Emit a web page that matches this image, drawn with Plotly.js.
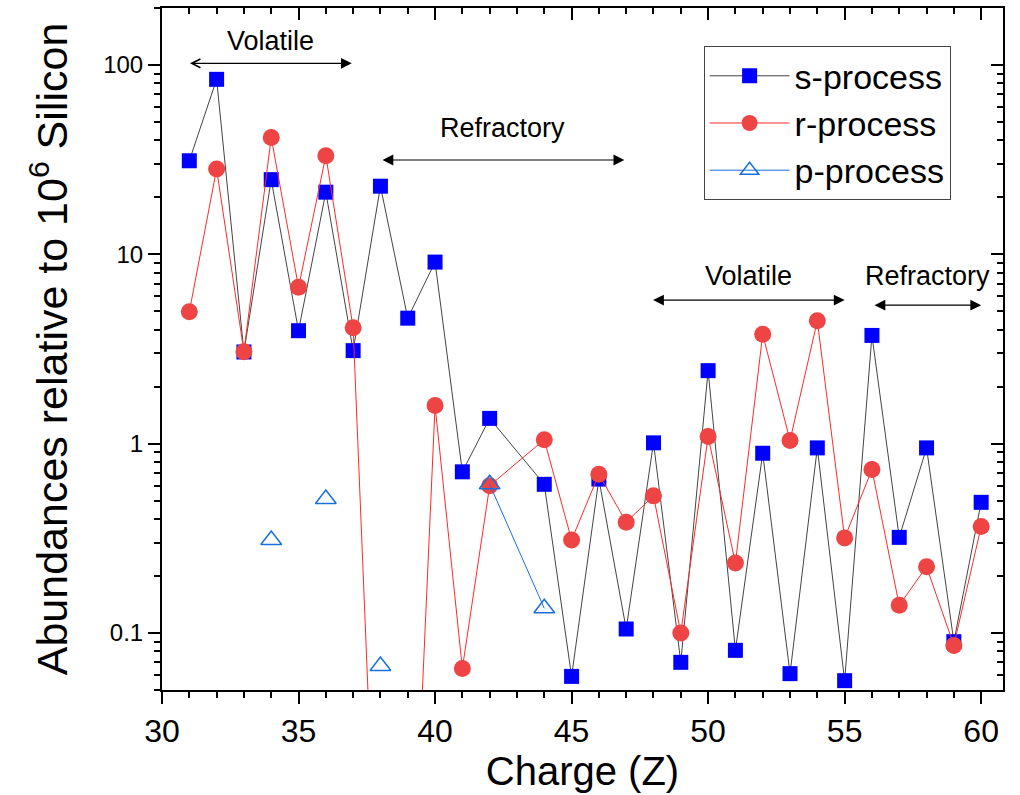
<!DOCTYPE html>
<html>
<head>
<meta charset="utf-8">
<script src="https://cdn.plot.ly/plotly-3.0.1.min.js"></script>
<style>html,body{margin:0;padding:0;background:#fff;}#chart{width:1020px;height:795px;}</style>
</head>
<body>
<div id="chart"></div>
<script>
// Atomic number (Z); Z = 43 has no entry
var charge = [31,32,33,34,35,36,37,38,39,40,41,42,44,45,46,47,48,49,50,51,52,53,54,55,56,57,58,59,60];
var sProcess = [31.2,84,3.05,24.8,3.95,21.3,3.1,22.9,4.6,9.1,0.71,1.36,0.61,0.059,0.65,0.105,1.01,0.070,2.43,0.081,0.89,0.061,0.95,0.056,3.73,0.32,0.95,0.090,0.49];
var rProcess = [4.97,28.2,3.06,41.4,6.7,33.2,4.1,0.0012,0.0009,1.59,0.065,0.60,1.05,0.31,0.69,0.385,0.53,0.10,1.09,0.234,3.78,1.04,4.46,0.318,0.73,0.14,0.224,0.086,0.365];
var pProcess = [null,null,null,0.31,null,0.51,null,0.067,null,null,null,0.61,0.135,null,null,null,null,null,null,null,null,null,null,null,null,null,null,null,null];

// Region labels (Z span, label height)
var regionLabels = ['Volatile','Refractory','Volatile','Refractory'];
var regionFrom = [30.97, 38.02, 47.93, 56.04];
var regionTo = [36.95, 46.93, 55.0, 60.0];
var regionArrowY = [102, 31.5, 5.73, 5.39];
var regionTextY = [134, 46.4, 7.67, 7.67];

var FONT = 'Arial, "Liberation Sans", sans-serif';

var traces = [
  {x: charge, y: sProcess, name: 's-process', type: 'scatter', mode: 'lines+markers',
   line: {color: '#444444', width: 1},
   marker: {symbol: 'square', size: 15, color: '#0000ff'}},
  {x: charge, y: rProcess, name: 'r-process', type: 'scatter', mode: 'lines+markers',
   line: {color: '#ff2a2a', width: 1},
   marker: {symbol: 'circle', size: 17, color: '#ef4444'}},
  {x: charge, y: pProcess, name: 'p-process', type: 'scatter', mode: 'lines+markers',
   connectgaps: false,
   line: {color: '#1a6fdc', width: 1},
   marker: {symbol: 'triangle-up-open', size: 18, color: '#1a6fdc', line: {width: 1.5, color: '#1a6fdc'}}},
  {x: [], y: [], xaxis: 'x2', yaxis: 'y2', showlegend: false, hoverinfo: 'skip', type: 'scatter'}
];

var annotations = [];
for (var i = 0; i < regionLabels.length; i++) {
  annotations.push({
    x: regionTo[i], y: Math.log10(regionArrowY[i]), xref: 'x', yref: 'y',
    ax: regionFrom[i], ay: Math.log10(regionArrowY[i]), axref: 'x', ayref: 'y',
    text: '', showarrow: true, arrowside: 'end+start',
    arrowhead: 2, startarrowhead: (i === 0 ? 5 : 2),
    arrowsize: 1.8, startarrowsize: (i === 0 ? 1.4 : 1.8), arrowwidth: 1.2, arrowcolor: '#000'
  });
  annotations.push({
    x: (regionFrom[i] + regionTo[i]) / 2, y: Math.log10(regionTextY[i]), xref: 'x', yref: 'y',
    text: regionLabels[i], showarrow: false,
    font: {family: FONT, size: 27, color: '#000'}
  });
}

var layout = {
  width: 1020, height: 795,
  margin: {l: 162, r: 17, t: 8, b: 105},
  paper_bgcolor: '#fff', plot_bgcolor: '#fff',
  font: {family: FONT, color: '#000'},
  showlegend: true,
  legend: {x: 0.644, y: 0.944, xanchor: 'left', yanchor: 'top',
           bordercolor: '#444', borderwidth: 1, bgcolor: '#fff',
           font: {family: FONT, size: 34, color: '#000'}, itemwidth: 80, tracegroupgap: 0},
  xaxis: {
    range: [30, 60.8], showgrid: false, zeroline: false,
    showline: true, linecolor: '#000', linewidth: 2,
    ticks: 'outside', ticklen: 12, tickwidth: 2, tickcolor: '#000',
    tickmode: 'linear', tick0: 30, dtick: 5,
    minor: {ticks: 'outside', ticklen: 6, tickwidth: 2, tickcolor: '#000', dtick: 1, showgrid: false},
    tickfont: {family: FONT, size: 32, color: '#000'},
    title: {text: 'Charge (Z)', font: {family: FONT, size: 40, color: '#000'}, standoff: 4}
  },
  yaxis: {
    type: 'log', range: [Math.log10(0.05), Math.log10(200)],
    showgrid: false, zeroline: false,
    showline: true, linecolor: '#000', linewidth: 2,
    ticks: 'outside', ticklen: 12, tickwidth: 2, tickcolor: '#000',
    tickmode: 'linear', tick0: 0, dtick: 1,
    minor: {ticks: 'outside', ticklen: 6, tickwidth: 2, tickcolor: '#000', dtick: 'D1', showgrid: false},
    tickfont: {family: FONT, size: 24, color: '#000'},
    title: {text: 'Abundances relative to 10<sup>6</sup> Silicon', font: {family: FONT, size: 43, color: '#000'}, standoff: 22}
  },
  xaxis2: {
    overlaying: 'x', side: 'top', range: [30, 60.8], showgrid: false, zeroline: false,
    showline: true, linecolor: '#000', linewidth: 2,
    ticks: 'inside', ticklen: 12, tickwidth: 2, tickcolor: '#000',
    tickmode: 'linear', tick0: 30, dtick: 5, showticklabels: false,
    minor: {ticks: 'inside', ticklen: 6, tickwidth: 2, tickcolor: '#000', dtick: 1, showgrid: false}
  },
  yaxis2: {
    overlaying: 'y', side: 'right', type: 'log', range: [Math.log10(0.05), Math.log10(200)],
    showgrid: false, zeroline: false,
    showline: true, linecolor: '#000', linewidth: 2,
    ticks: 'inside', ticklen: 12, tickwidth: 2, tickcolor: '#000',
    tickmode: 'linear', tick0: 0, dtick: 1, showticklabels: false,
    minor: {ticks: 'inside', ticklen: 6, tickwidth: 2, tickcolor: '#000', dtick: 'D1', showgrid: false}
  },
  annotations: annotations
};

Plotly.newPlot('chart', traces, layout, {displayModeBar: false, staticPlot: true});
</script>
</body>
</html>
